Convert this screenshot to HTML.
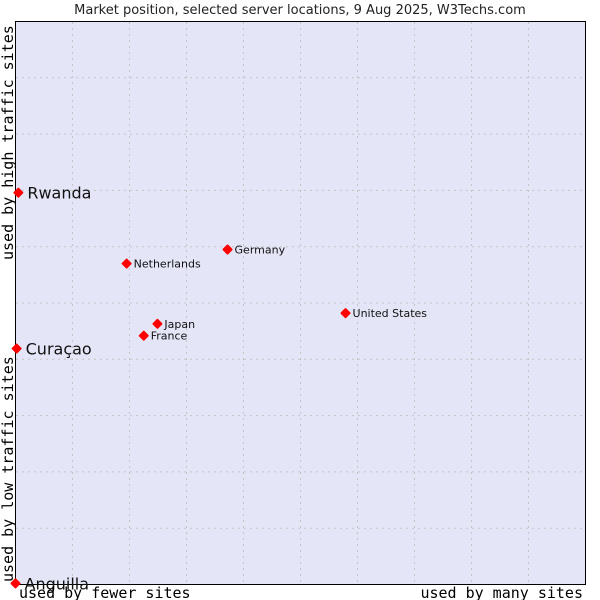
<!DOCTYPE html>
<html><head><meta charset="utf-8"><style>
body{margin:0;background:#fff;width:600px;height:600px;overflow:hidden}
svg{display:block}
</style></head><body>
<svg id="chart" width="600" height="600" xmlns="http://www.w3.org/2000/svg">
<text x="300" y="14" text-anchor="middle" font-family="DejaVu Sans, sans-serif" font-size="13" fill="#222">Market position, selected server locations, 9 Aug 2025, W3Techs.com</text>
<rect x="15.5" y="21.5" width="570" height="563" fill="#e4e6f8" stroke="#000" stroke-width="1"/>
<g id="grid"></g>
<g id="points"></g>
<text x="19" y="598" font-family="DejaVu Sans Mono, monospace" font-size="15" fill="#000">used by fewer sites</text>
<text x="583" y="598" text-anchor="end" font-family="DejaVu Sans Mono, monospace" font-size="15" fill="#000">used by many sites</text>
<text transform="translate(13,260) rotate(-90)" font-family="DejaVu Sans Mono, monospace" font-size="15" fill="#000">used by high traffic sites</text>
<text transform="translate(13,582) rotate(-90)" font-family="DejaVu Sans Mono, monospace" font-size="15" fill="#000">used by low traffic sites</text>
</svg>
<script>
const names = ["Rwanda","Curaçao","Anguilla","Netherlands","Germany","Japan","France","United States"];
const xVals = [0.5,0.2,0,19.5,37.2,24.9,22.5,57.9];
const yVals = [69.6,41.9,0.2,57.0,59.5,46.3,44.2,48.2];
const big = [true,true,true,false,false,false,false,false];
const X0=15.5,W=570,Y0=584.5,H=563;
const sx=v=>X0+v/100*W, sy=v=>Y0-v/100*H;
const NS="http://www.w3.org/2000/svg";
const grid=document.getElementById('grid');
for(let i=1;i<10;i++){
  const gx=document.createElementNS(NS,'line');
  gx.setAttribute('x1',sx(i*10));gx.setAttribute('x2',sx(i*10));gx.setAttribute('y1',22);gx.setAttribute('y2',584);
  gx.setAttribute('stroke','#c4c4c4');gx.setAttribute('stroke-dasharray','2,4');
  
  
  grid.appendChild(gx);
  const gy=document.createElementNS(NS,'line');
  gy.setAttribute('y1',sy(i*10));gy.setAttribute('y2',sy(i*10));gy.setAttribute('x1',16);gy.setAttribute('x2',585);
  gy.setAttribute('stroke','#c4c4c4');gy.setAttribute('stroke-dasharray','2,4');
  
  
  grid.appendChild(gy);
}
const pts=document.getElementById('points');
names.forEach((n,i)=>{
  const cx=sx(xVals[i]),cy=sy(yVals[i]);
  const d=document.createElementNS(NS,'path');
  d.setAttribute('d',`M${cx} ${cy-4}L${cx+4} ${cy}L${cx} ${cy+4}L${cx-4} ${cy}Z`);
  d.setAttribute('fill','#f00');d.setAttribute('stroke','#f00');d.setAttribute('stroke-width','2');d.setAttribute('stroke-linejoin','round');
  
  
  pts.appendChild(d);
  const t=document.createElementNS(NS,'text');
  t.setAttribute('x',cx+(big[i]?9:7));t.setAttribute('y',cy+(big[i]?6:4));
  t.setAttribute('font-family','DejaVu Sans, sans-serif');
  t.setAttribute('font-size',big[i]?16:11);t.setAttribute('fill','#111');
  t.textContent=n;
  
  
  pts.appendChild(t);
});
</script>
</body></html>
